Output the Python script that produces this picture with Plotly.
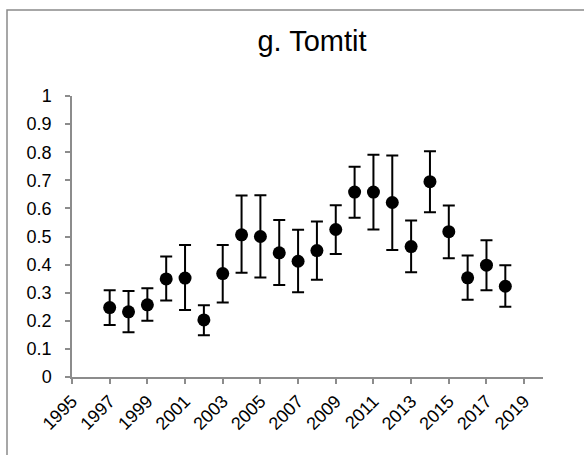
import plotly.graph_objects as go

years = [1997, 1998, 1999, 2000, 2001, 2002, 2003, 2004, 2005, 2006, 2007,
         2008, 2009, 2010, 2011, 2012, 2013, 2014, 2015, 2016, 2017, 2018]
values = [0.247, 0.232, 0.257, 0.349, 0.352, 0.203, 0.368, 0.506, 0.500, 0.442, 0.412,
          0.450, 0.525, 0.658, 0.658, 0.621, 0.464, 0.695, 0.517, 0.353, 0.398, 0.323]
upper = [0.309, 0.306, 0.316, 0.429, 0.470, 0.255, 0.470, 0.646, 0.647, 0.559, 0.524,
         0.553, 0.611, 0.748, 0.791, 0.788, 0.557, 0.803, 0.610, 0.432, 0.487, 0.398]
lower = [0.185, 0.159, 0.200, 0.272, 0.238, 0.149, 0.265, 0.371, 0.354, 0.327, 0.302,
         0.346, 0.438, 0.567, 0.525, 0.452, 0.373, 0.586, 0.423, 0.275, 0.309, 0.250]
x_ticks = list(range(1995, 2020, 2))
y_ticks = [0, 0.1, 0.2, 0.3, 0.4, 0.5, 0.6, 0.7, 0.8, 0.9, 1]
y_labels = ["0", "0.1", "0.2", "0.3", "0.4", "0.5", "0.6", "0.7", "0.8", "0.9", "1"]

err_plus = [u - v for u, v in zip(upper, values)]
err_minus = [v - l for v, l in zip(values, lower)]

fig = go.Figure()
fig.add_trace(go.Scatter(
    x=years, y=values, mode="markers",
    marker=dict(color="black", size=13),
    error_y=dict(type="data", symmetric=False, array=err_plus, arrayminus=err_minus,
                 color="black", thickness=2, width=6),
    showlegend=False,
))

font_family = "Liberation Sans, Arial, sans-serif"
axis_color = "#8c8c8c"

fig.update_layout(
    width=584, height=455,
    margin=dict(l=72, r=41, t=96, b=78),
    paper_bgcolor="white", plot_bgcolor="white",
    font=dict(family=font_family, color="black", size=18),
    title=dict(text="g. Tomtit", x=312 / 584, xanchor="center", y=1 - 41 / 455,
               yanchor="middle",
               font=dict(size=29, family=font_family, color="black")),
    xaxis=dict(range=[1995, 2020], tickmode="array", tickvals=x_ticks,
               ticktext=[str(t) for t in x_ticks], tickangle=-45,
               showgrid=False, zeroline=False, showline=True, linecolor=axis_color,
               linewidth=1.5, ticks="outside", ticklen=5, tickcolor=axis_color,
               tickwidth=1.5, tickfont=dict(size=18)),
    yaxis=dict(range=[0, 1], tickmode="array", tickvals=y_ticks, ticktext=y_labels,
               showgrid=False, zeroline=False, showline=True, linecolor=axis_color,
               linewidth=1.5, ticks="outside", ticklen=5, tickcolor=axis_color,
               tickwidth=1.5, tickfont=dict(size=18), ticklabelstandoff=10),
)

# outer chart border (right/bottom fall outside the canvas)
fig.add_shape(type="rect", xref="paper", yref="paper",
              x0=(7 - 72) / 471, x1=(620 - 72) / 471,
              y0=(377 - 480) / 281, y1=(377 - 10) / 281,
              line=dict(color="#8a8a8a", width=1.5), fillcolor="rgba(0,0,0,0)",
              layer="below")

fig.write_html("out.html")
